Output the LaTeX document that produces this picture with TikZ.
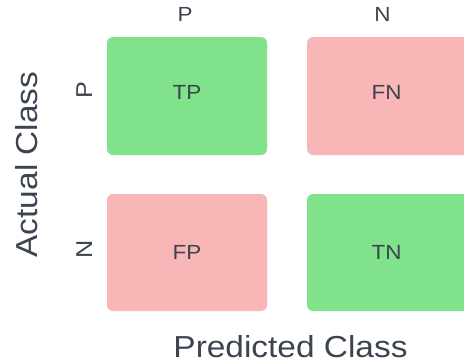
\documentclass[tikz,border=0pt]{standalone}
\usepackage{fontspec}
\setmainfont{Liberation Sans}[FakeStretch=1.1]
\definecolor{txt}{HTML}{3B4450}
\definecolor{goodc}{HTML}{80E28A}
\definecolor{badc}{HTML}{F8B6B6}
\begin{document}
\begin{tikzpicture}[x=1bp,y=-1bp,
  cell/.style={rounded corners=6bp,inner sep=0pt},
  celltext/.style={text=txt,anchor=base,inner sep=0pt,font=\fontsize{20.5}{20.5}\selectfont},
  head/.style={text=txt,anchor=base,inner sep=0pt,font=\fontsize{20.5}{20.5}\selectfont},
  rowhead/.style={text=txt,anchor=base,inner sep=0pt,rotate=90,font=\fontsize{23}{23}\selectfont},
  axis/.style={text=txt,anchor=base,inner sep=0pt,font=\fontsize{30.5}{30.5}\selectfont}]
\useasboundingbox (0,0) rectangle (464,362);
% cells of the matrix
\fill[goodc,cell] (107,37) rectangle (267,155);
\fill[badc,cell] (307,37) rectangle (470,155);
\fill[badc,cell] (107,194) rectangle (267,311);
\fill[goodc,cell] (307,194) rectangle (470,311);
\node[celltext] (tp) at (187,99.5) {TP};
\node[celltext] (fn) at (386.5,99.5) {FN};
\node[celltext] (fp) at (187,259) {FP};
\node[celltext] (tn) at (386.5,259) {TN};
% column and row headings
\node[head] (cp) at (185,21) {P};
\node[head] (cn) at (382.5,21) {N};
\node[rowhead] (rp) at (92,90.5) {P};
\node[rowhead] (rn) at (92,249) {N};
% axis titles
\node[axis] (pred) at (290.5,357) {Predicted Class};
\node[axis,rotate=90] (act) at (37,164.5) {Actual Class};
\end{tikzpicture}
\end{document}
